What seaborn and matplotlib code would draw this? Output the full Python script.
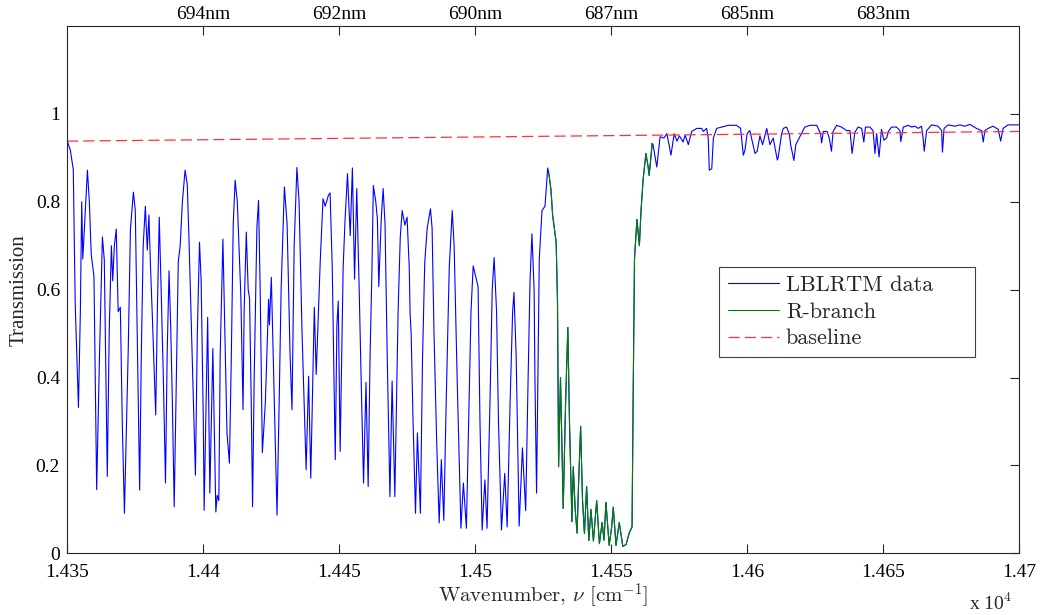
import matplotlib
matplotlib.use("Agg")
import matplotlib.pyplot as plt
import seaborn as sns
import pandas as pd

# ---- data (wavenumber in cm^-1, transmission) ----
wavenumber = [
    14350.1, 14351.2, 14352.3, 14353.0, 14354.2, 14354.9, 14355.4, 14355.8, 14356.4, 14357.5,
    14358.2, 14358.9, 14359.9, 14360.9, 14361.9, 14363.0, 14363.7, 14364.3, 14364.8, 14365.5,
    14366.3, 14366.8, 14367.4, 14368.1, 14368.8, 14369.6, 14370.3, 14371.1, 14372.5, 14373.3,
    14374.4, 14375.1, 14375.8, 14376.7, 14377.3, 14378.0, 14378.8, 14379.5, 14380.1, 14380.7,
    14381.3, 14382.6, 14383.2, 14383.9, 14384.6, 14385.4, 14386.2, 14386.8, 14387.5, 14388.1,
    14388.7, 14389.4, 14390.2, 14390.9, 14391.6, 14392.4, 14393.4, 14394.2, 14394.9, 14396.0,
    14397.2, 14397.9, 14398.7, 14399.3, 14400.1, 14400.4, 14401.7, 14402.5, 14403.6, 14404.7,
    14405.2, 14405.8, 14406.3, 14407.3, 14408.2, 14408.8, 14409.7, 14410.4, 14411.1, 14411.8,
    14412.6, 14413.9, 14414.7, 14415.1, 14415.9, 14416.6, 14417.1, 14417.7, 14418.2, 14418.8,
    14419.8, 14420.4, 14421.0, 14421.8, 14422.9, 14424.1, 14424.4, 14425.1, 14425.8, 14427.2,
    14428.0, 14428.7, 14429.9, 14430.9, 14432.0, 14432.7, 14433.5, 14434.5, 14435.3, 14436.4,
    14437.9, 14438.8, 14439.6, 14440.9, 14441.6, 14443.1, 14444.1, 14444.9, 14446.1, 14446.7,
    14447.5, 14448.6, 14449.2, 14449.7, 14450.4, 14451.5, 14452.2, 14453.1, 14454.1, 14454.9,
    14455.7, 14456.5, 14457.4, 14458.1, 14459.0, 14459.9, 14460.7, 14461.4, 14462.1, 14462.6,
    14463.5, 14464.1, 14464.6, 14465.5, 14466.2, 14466.9, 14467.7, 14468.7, 14469.5, 14470.5,
    14471.7, 14472.5, 14473.2, 14474.2, 14475.0, 14475.8, 14476.1, 14476.5, 14477.2, 14478.1,
    14478.8, 14479.9, 14480.7, 14481.5, 14482.4, 14483.6, 14484.2, 14484.9, 14485.9, 14486.8,
    14487.6, 14488.5, 14489.4, 14490.5, 14491.6, 14492.3, 14493.4, 14494.8, 14495.7, 14496.8,
    14497.8, 14498.5, 14499.3, 14501.1, 14501.8, 14502.6, 14503.6, 14504.4, 14505.5, 14506.3,
    14507.0, 14507.9, 14508.6, 14509.7, 14510.9, 14511.8, 14512.9, 14513.8, 14514.3, 14515.1,
    14516.2, 14517.4, 14518.6, 14519.5, 14520.2, 14520.9, 14521.7, 14522.0, 14522.6, 14523.1,
    14523.6, 14524.6, 14525.7, 14526.7, 14527.1,
    14527.9, 14528.5, 14529.8, 14530.3, 14530.7, 14531.4, 14532.4, 14533.3, 14534.1, 14534.7,
    14535.6, 14536.1, 14536.8, 14537.5, 14538.0, 14538.8, 14539.5, 14540.2, 14541.0, 14541.8,
    14542.6, 14543.5, 14544.7, 14545.7, 14546.7, 14547.4, 14548.1, 14549.3, 14550.2, 14550.8,
    14551.8, 14553.0, 14554.3, 14555.5, 14556.7, 14557.7, 14558.1, 14558.6, 14559.5, 14560.4,
    14561.0, 14561.8, 14562.8, 14563.6, 14564.0, 14565.1, 14565.4,
    14566.8, 14568.0, 14569.4, 14570.5, 14571.3, 14572.0, 14573.2, 14574.2, 14575.1, 14576.5,
    14577.2, 14578.4, 14579.6, 14581.5, 14583.3, 14583.9, 14585.1, 14585.7, 14586.1, 14587.0,
    14587.6, 14588.8, 14590.6, 14593.1, 14596.1, 14597.6, 14598.6, 14599.2, 14600.0, 14601.0,
    14602.9, 14603.7, 14604.7, 14605.7, 14607.2, 14608.4, 14609.6, 14611.1, 14611.4, 14612.7,
    14613.3, 14614.5, 14615.5, 14616.0, 14617.2, 14617.9, 14619.7, 14621.2, 14623.1, 14625.6,
    14627.0, 14627.4, 14628.0, 14629.4, 14630.2, 14631.0, 14631.6, 14632.9, 14634.7, 14636.6,
    14637.8, 14638.6, 14639.6, 14640.8, 14642.1, 14642.9, 14643.5, 14645.1, 14646.3, 14647.0,
    14647.6, 14648.5, 14649.4, 14650.3, 14651.3, 14651.9, 14653.1, 14654.9, 14656.2, 14656.5,
    14657.4, 14659.2, 14660.5, 14661.7, 14662.9, 14664.1, 14664.7, 14665.1, 14666.0, 14667.8,
    14670.2, 14671.5, 14671.8, 14672.4, 14673.9, 14676.4, 14678.2, 14680.0, 14681.9, 14684.3,
    14686.2, 14686.8, 14687.4, 14688.6, 14690.4, 14692.3, 14693.2, 14694.1, 14695.9, 14700.0,
]
transmission = [
    0.938, 0.918, 0.873, 0.570, 0.332, 0.550, 0.800, 0.670, 0.740, 0.872,
    0.800, 0.680, 0.630, 0.145, 0.440, 0.720, 0.668, 0.400, 0.175, 0.500,
    0.700, 0.620, 0.700, 0.738, 0.550, 0.560, 0.300, 0.091, 0.463, 0.737,
    0.822, 0.780, 0.500, 0.144, 0.450, 0.700, 0.790, 0.690, 0.770, 0.650,
    0.550, 0.315, 0.550, 0.765, 0.600, 0.400, 0.160, 0.450, 0.643, 0.517,
    0.350, 0.106, 0.400, 0.664, 0.700, 0.800, 0.872, 0.840, 0.700, 0.450,
    0.178, 0.500, 0.708, 0.620, 0.300, 0.098, 0.537, 0.137, 0.466, 0.094,
    0.132, 0.120, 0.450, 0.715, 0.450, 0.274, 0.205, 0.450, 0.750, 0.849,
    0.800, 0.585, 0.327, 0.550, 0.731, 0.600, 0.580, 0.350, 0.106, 0.400,
    0.743, 0.803, 0.600, 0.229, 0.342, 0.578, 0.520, 0.628, 0.450, 0.087,
    0.350, 0.600, 0.834, 0.750, 0.450, 0.327, 0.700, 0.878, 0.800, 0.500,
    0.190, 0.403, 0.171, 0.560, 0.407, 0.668, 0.807, 0.790, 0.815, 0.820,
    0.650, 0.213, 0.520, 0.574, 0.232, 0.650, 0.759, 0.864, 0.723, 0.877,
    0.624, 0.830, 0.600, 0.400, 0.160, 0.389, 0.152, 0.450, 0.650, 0.837,
    0.800, 0.760, 0.607, 0.760, 0.830, 0.750, 0.450, 0.129, 0.392, 0.129,
    0.550, 0.720, 0.780, 0.747, 0.765, 0.650, 0.548, 0.500, 0.300, 0.091,
    0.274, 0.091, 0.450, 0.663, 0.740, 0.784, 0.740, 0.500, 0.250, 0.069,
    0.213, 0.075, 0.350, 0.650, 0.780, 0.700, 0.400, 0.057, 0.160, 0.057,
    0.350, 0.550, 0.654, 0.607, 0.300, 0.053, 0.167, 0.057, 0.350, 0.600,
    0.673, 0.550, 0.300, 0.053, 0.182, 0.060, 0.350, 0.550, 0.594, 0.450,
    0.062, 0.240, 0.097, 0.400, 0.620, 0.727, 0.600, 0.400, 0.137, 0.400,
    0.670, 0.780, 0.790, 0.877, 0.865,
    0.827, 0.770, 0.708, 0.573, 0.197, 0.400, 0.102, 0.350, 0.514, 0.300,
    0.072, 0.197, 0.100, 0.046, 0.150, 0.289, 0.120, 0.045, 0.152, 0.029,
    0.100, 0.028, 0.120, 0.022, 0.070, 0.030, 0.116, 0.018, 0.060, 0.105,
    0.018, 0.070, 0.016, 0.020, 0.047, 0.060, 0.350, 0.670, 0.760, 0.700,
    0.780, 0.853, 0.910, 0.880, 0.860, 0.933, 0.930,
    0.879, 0.948, 0.945, 0.955, 0.930, 0.906, 0.955, 0.938, 0.950, 0.936,
    0.952, 0.930, 0.960, 0.967, 0.967, 0.960, 0.967, 0.945, 0.872, 0.875,
    0.945, 0.967, 0.970, 0.974, 0.974, 0.967, 0.906, 0.917, 0.955, 0.962,
    0.910, 0.915, 0.950, 0.930, 0.967, 0.930, 0.945, 0.895, 0.900, 0.955,
    0.967, 0.970, 0.955, 0.930, 0.894, 0.930, 0.952, 0.970, 0.974, 0.974,
    0.955, 0.934, 0.960, 0.960, 0.945, 0.915, 0.960, 0.974, 0.970, 0.962,
    0.962, 0.910, 0.958, 0.970, 0.967, 0.936, 0.970, 0.970, 0.962, 0.910,
    0.955, 0.902, 0.965, 0.940, 0.945, 0.960, 0.970, 0.970, 0.962, 0.937,
    0.970, 0.974, 0.970, 0.972, 0.967, 0.972, 0.945, 0.915, 0.962, 0.975,
    0.972, 0.962, 0.913, 0.967, 0.975, 0.972, 0.975, 0.972, 0.976, 0.967,
    0.962, 0.936, 0.962, 0.967, 0.972, 0.965, 0.938, 0.967, 0.975, 0.975,
]
baseline_wn = [14350.0, 14700.0]
baseline_tr = [0.938, 0.960]
branch_start, branch_end = 14527.1, 14565.4

x_ticks = [14350, 14400, 14450, 14500, 14550, 14600, 14650, 14700]
x_tick_labels = ["1.435", "1.44", "1.445", "1.45", "1.455", "1.46", "1.465", "1.47"]
y_ticks = [0, 0.2, 0.4, 0.6, 0.8, 1.0]
y_tick_labels = ["0", "0.2", "0.4", "0.6", "0.8", "1"]
top_ticks = [14400, 14450, 14500, 14550, 14600, 14650]
top_tick_labels = ["694nm", "692nm", "690nm", "687nm", "685nm", "683nm"]
series_labels = ["LBLRTM data", "R-branch", "baseline"]

# ---- style ----
sns.set_style("white")
plt.rcParams["font.family"] = ["Liberation Serif", "DejaVu Serif"]
plt.rcParams["mathtext.fontset"] = "cm"

fig = plt.figure(figsize=(10.44, 6.15), dpi=100)
ax = fig.add_axes([0.0642, 0.1003, 0.912, 0.8574])

df = pd.DataFrame({"wn": wavenumber, "tr": transmission})
branch = df[(df["wn"] >= branch_start) & (df["wn"] <= branch_end)]
bdf = pd.DataFrame({"wn": baseline_wn, "tr": baseline_tr})

sns.lineplot(data=df, x="wn", y="tr", ax=ax, color="#0000ff", lw=0.8,
             estimator=None, sort=False, label=series_labels[0])
sns.lineplot(data=branch, x="wn", y="tr", ax=ax, color="#008000", lw=0.8,
             estimator=None, sort=False, label=series_labels[1])
sns.lineplot(data=bdf, x="wn", y="tr", ax=ax, color="#ff3333", lw=0.9,
             linestyle=(0, (9, 4)), estimator=None, sort=False, label=series_labels[2])

ax.set_xlim(14350, 14700)
ax.set_ylim(0, 1.2)
ax.set_xticks(x_ticks)
ax.set_xticklabels(x_tick_labels)
ax.set_yticks(y_ticks)
ax.set_yticklabels(y_tick_labels)
ax.tick_params(axis="both", direction="in", length=6.5, width=0.8, colors="#262626",
               labelcolor="black", labelsize=14, top=False, right=True)
ax.tick_params(axis="x", pad=7.5)
ax.tick_params(axis="y", pad=5)
for s in ax.spines.values():
    s.set_visible(True)
    s.set_color("#262626")
    s.set_linewidth(0.8)

ax.set_xlabel(r"Wavenumber, $\nu$ [cm$^{-1}$]", fontsize=15, family="cmr10")
ax.xaxis.set_label_coords(0.5, -0.052)
ax.set_ylabel("Transmission", fontsize=15)
ax.yaxis.set_label_coords(-0.04, 0.5)

ax2 = ax.twiny()
ax2.set_xlim(ax.get_xlim())
ax2.set_xticks(top_ticks)
ax2.set_xticklabels(top_tick_labels)
ax2.tick_params(axis="x", direction="in", length=6.5, width=0.8, colors="#262626",
                labelcolor="black", labelsize=14, pad=2)
for s in ax2.spines.values():
    s.set_visible(False)

leg = ax.legend(loc="upper left", bbox_to_anchor=(0.685, 0.3666, 0.269, 0.177),
                mode="expand", frameon=True, fancybox=False, edgecolor="#404040",
                framealpha=1, prop={"family": "cmr10", "size": 16}, handlelength=2.3,
                handletextpad=0.3, labelspacing=0.32, borderpad=0.4, borderaxespad=0)
leg.get_frame().set_linewidth(0.8)

fig.text(0.928, 0.002, r"x 10$^4$", fontsize=14, ha="left", va="bottom")

fig.savefig("out.png", dpi=100)
